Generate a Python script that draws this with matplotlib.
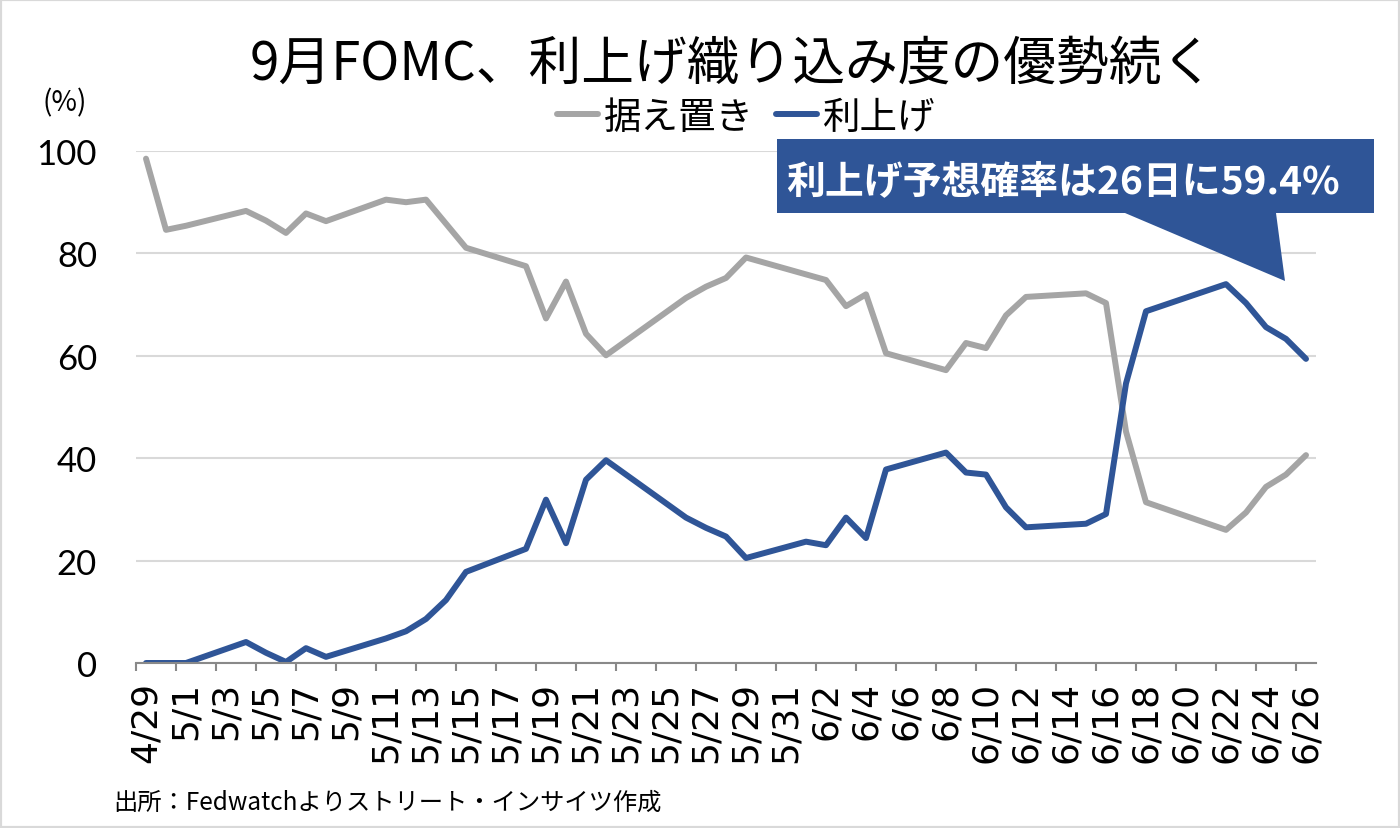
import numpy as np
import pandas as pd
import matplotlib
matplotlib.use("Agg")
import matplotlib.pyplot as plt
from matplotlib.patches import Polygon, Rectangle

# FedWatch: 9月FOMCの確率 (%)
dates = ["4/29", "4/30", "5/1", "5/4", "5/5", "5/6", "5/7", "5/8",
         "5/11", "5/12", "5/13", "5/14", "5/15", "5/18", "5/19", "5/20",
         "5/21", "5/22", "5/26", "5/27", "5/28", "5/29", "6/1", "6/2",
         "6/3", "6/4", "6/5", "6/8", "6/9", "6/10", "6/11", "6/12",
         "6/15", "6/16", "6/17", "6/18", "6/22", "6/23", "6/24", "6/25", "6/26"]
hold = [98.5, 84.6, 85.4, 88.3, 86.4, 84.0, 87.8, 86.3,
        90.5, 90.0, 90.5, 85.8, 81.1, 77.5, 67.3, 74.5,
        64.3, 60.1, 71.3, 73.5, 75.2, 79.2, 75.9, 74.8,
        69.7, 72.0, 60.5, 57.2, 62.5, 61.5, 67.9, 71.5,
        72.2, 70.3, 45.2, 31.4, 26.0, 29.4, 34.4, 36.8, 40.6]
hike = [0.0, 0.0, 0.0, 4.1, 2.0, 0.2, 2.9, 1.2,
        4.8, 6.2, 8.6, 12.3, 17.8, 22.3, 31.9, 23.4,
        35.8, 39.6, 28.4, 26.4, 24.7, 20.5, 23.7, 23.0,
        28.4, 24.4, 37.8, 41.1, 37.2, 36.8, 30.4, 26.5,
        27.2, 29.1, 54.6, 68.7, 74.0, 70.3, 65.6, 63.3, 59.4]
year = 2026
first_day, last_day = "4/29", "6/27"

plt.rcParams['font.family'] = ['Noto Sans CJK JP', 'DejaVu Sans']

W, H = 1400, 829
def fx(px, py):
    return (px / W, 1 - py / H)

fig = plt.figure(figsize=(14, 8.29), dpi=100)
ax = fig.add_axes([136 / W, 1 - 664 / H, (1316 - 136) / W, (664 - 152) / H])

start = pd.Timestamp(f"{year}/{first_day}")
end = pd.Timestamp(f"{year}/{last_day}")
x = (pd.to_datetime([f"{year}/{d}" for d in dates]) - start).days + 0.5

ax.plot(x, hold, color='#a5a5a5', lw=4.3, solid_joinstyle='round',
        solid_capstyle='round', label='据え置き', zorder=3)
ax.plot(x, hike, color='#2f5597', lw=4.3, solid_joinstyle='round',
        solid_capstyle='round', label='利上げ', zorder=4)

ndays = (end - start).days
ax.set_xlim(0, ndays)
ax.set_ylim(0, 100)
ax.set_yticks(range(0, 101, 20))

ticks = np.arange(0, ndays, 2)
label_days = pd.date_range(start, periods=len(ticks), freq='2D')
ax.set_xticks(ticks)
ax.set_xticklabels([])
ax.set_xticks(ticks + 0.5, minor=True)
ax.set_xticklabels([f"{d.month}/{d.day}" for d in label_days], minor=True,
                   rotation=90, fontsize=26, family=['DejaVu Sans'])
ax.tick_params(axis='x', which='major', length=6, width=1.5, color='#898989')
ax.tick_params(axis='x', which='minor', length=0, pad=13)
ax.tick_params(axis='y', length=0, pad=28, labelsize=25)
for lab in ax.get_yticklabels():
    lab.set_family(['Lato', 'DejaVu Sans'])

ax.yaxis.grid(True, color='#d9d9d9', lw=1.5)
ax.set_axisbelow(True)
for s in ['top', 'right', 'left']:
    ax.spines[s].set_visible(False)
ax.spines['bottom'].set_color('#898989')
ax.spines['bottom'].set_linewidth(1.5)
ax.spines['bottom'].set_zorder(5)

fig.text(*fx(732, 64), "9月FOMC、利上げ織り込み度の優勢続く", fontsize=38,
         ha='center', va='center')
fig.legend(loc='center', bbox_to_anchor=fx(746, 118), ncol=2, frameon=False,
           fontsize=27, handlelength=1.1, handletextpad=0.15, columnspacing=0.6)
fig.text(*fx(65, 103), "(%)", fontsize=20, ha='center', va='center')
fig.text(*fx(113, 803), "出所：Fedwatchよりストリート・インサイツ作成",
         fontsize=17.5, ha='left', va='center')

# callout
callout = [(777, 140), (1374, 140), (1374, 214), (1276, 214), (1285, 282),
           (1125, 214), (777, 214)]
fig.patches.append(Polygon([fx(*p) for p in callout], closed=True,
                           facecolor='#2f5597', edgecolor='none',
                           transform=fig.transFigure, figure=fig))
fig.text(*fx(1063, 182), "利上げ予想確率は26日に59.4%", fontsize=28,
         fontweight='bold', color='white', ha='center', va='center', zorder=5)

fig.patches.append(Rectangle((0, 0), 1, 1, fill=False, edgecolor='#d9d9d9',
                             lw=3, transform=fig.transFigure, figure=fig))

fig.savefig("out.png", dpi=100)
